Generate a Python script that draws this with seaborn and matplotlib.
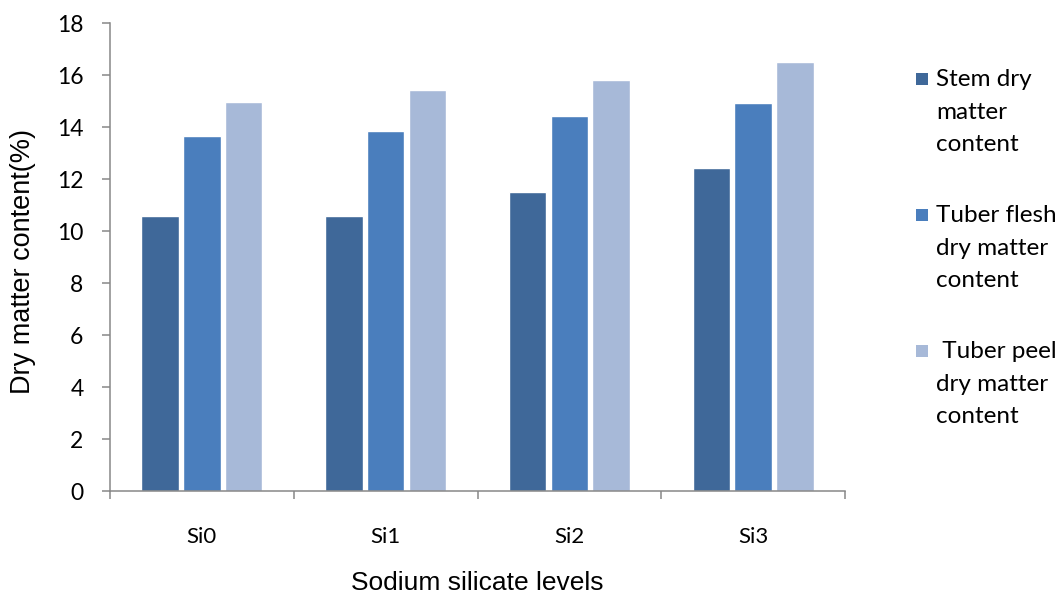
import numpy as np
import pandas as pd
import matplotlib
matplotlib.use("Agg")
import matplotlib.pyplot as plt
from matplotlib.patches import Rectangle
from matplotlib.ticker import FixedLocator
import seaborn as sns

# ── Data ─────────────────────────────────────────────────────────
levels = ["Si0", "Si1", "Si2", "Si3"]
stem_dm = [10.58, 10.56, 11.51, 12.43]
flesh_dm = [13.64, 13.83, 14.43, 14.91]
peel_dm = [14.98, 15.41, 15.80, 16.50]

series_names = ["Stem dry matter content",
                "Tuber flesh dry matter content",
                "Tuber peel dry matter content"]
legend_labels = ["Stem dry\nmatter\ncontent",
                 "Tuber flesh\ndry matter\ncontent",
                 " Tuber peel\ndry matter\ncontent"]
y_ticks = [0, 2, 4, 6, 8, 10, 12, 14, 16, 18]

# ── Style ────────────────────────────────────────────────────────
STEM_C = "#3F6899"
FLESH_C = "#4A7EBD"
PEEL_C = "#A7B9D8"
AXIS_C = "#878787"
colours = [STEM_C, FLESH_C, PEEL_C]

sns.set_theme(style="white")
plt.rcParams["font.family"] = ["Lato", "DejaVu Sans"]

df = pd.DataFrame({
    "level": levels * 3,
    "value": stem_dm + flesh_dm + peel_dm,
    "series": np.repeat(series_names, len(levels)),
})

fig = plt.figure(figsize=(10.6, 5.97), dpi=100)
ax = fig.add_axes([110 / 1060, 1 - 491 / 597, 735 / 1060, 468 / 597])

sns.barplot(
    data=df, x="level", y="value", hue="series",
    order=levels, hue_order=series_names,
    palette=colours, saturation=1,
    width=0.68, gap=0.1, legend=False,
    errorbar=None, ax=ax,
)

ax.set_xlim(-0.5, 3.5)
ax.set_ylim(0, 18)
ax.set_yticks(y_ticks)
ax.set_yticklabels([str(t) for t in y_ticks])

# category ticks sit on the boundaries, labels in the centre
ax.xaxis.set_minor_locator(FixedLocator(np.arange(-0.5, 4.0, 1.0)))
ax.tick_params(axis="x", which="major", length=0, pad=26,
               labelsize=16, labelcolor="black")
ax.tick_params(axis="x", which="minor", direction="out", length=6,
               width=1.1, color=AXIS_C, bottom=True)
ax.tick_params(axis="y", direction="out", length=6, width=1.1,
               color=AXIS_C, pad=13, labelsize=16.5, labelcolor="black",
               left=True)

for side in ["top", "right"]:
    ax.spines[side].set_visible(False)
for side in ["left", "bottom"]:
    ax.spines[side].set_color(AXIS_C)
    ax.spines[side].set_linewidth(1.1)
ax.grid(False)

ax.set_xlabel("Sodium silicate levels", fontsize=19,
              family=["Liberation Sans", "DejaVu Sans"], color="black")
ax.set_ylabel("Dry matter content(%)", fontsize=19.5,
              family=["Liberation Sans", "DejaVu Sans"], color="black")
ax.xaxis.set_label_coords(0.5, -0.17)
ax.yaxis.set_label_coords(-0.1, 0.49)

# ── Legend: square aligned with the first line of each label ─────
text_tops = [69, 205, 341]
for colour, label, top in zip(colours, legend_labels, text_tops):
    cy = top + 10
    fig.add_artist(Rectangle((916 / 1060, 1 - (cy + 6) / 597), 12 / 1060, 12 / 597,
                             transform=fig.transFigure, facecolor=colour,
                             edgecolor="none"))
    fig.text(936 / 1060, 1 - top / 597, label, fontsize=17.5, va="top",
             ha="left", linespacing=1.68, color="black")

fig.savefig("out.png", dpi=100, facecolor="white")
plt.close(fig)
